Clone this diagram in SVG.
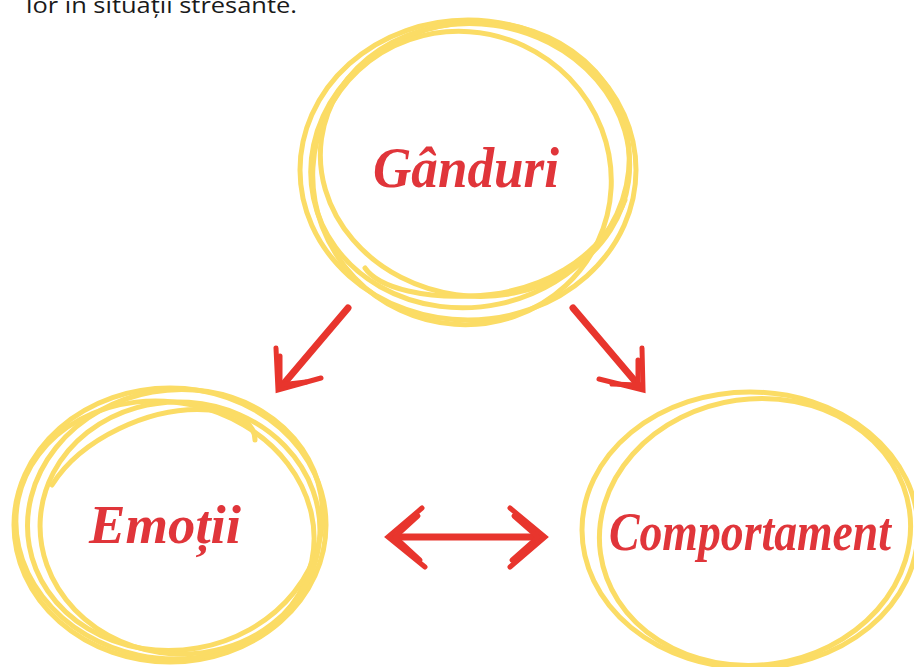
<svg xmlns="http://www.w3.org/2000/svg" width="914" height="667" viewBox="0 0 914 667">
<defs>
<style>
.ring{fill:none;stroke:#fbdc65;stroke-width:5;stroke-linecap:round}
.lbl{font-family:"Liberation Serif","DejaVu Serif",serif;font-style:italic;font-weight:bold;fill:#e0353a}
.arr{fill:none;stroke:#e8352d;stroke-width:7;stroke-linecap:round;stroke-linejoin:round}
.head{fill:none;stroke:#e8352d;stroke-width:5;stroke-linecap:round;stroke-linejoin:miter}
</style>
</defs>
<rect width="914" height="667" fill="#ffffff"/>
<text x="26" y="13" font-family="'Open Sans','Noto Sans',sans-serif" font-size="22" fill="#1a1a1a" textLength="271" lengthAdjust="spacingAndGlyphs">lor în situații stresante.</text>

<g id="node-ganduri">
<ellipse class="ring" cx="468" cy="170" rx="168" ry="150"/>
<ellipse class="ring" cx="470" cy="165" rx="160" ry="142" transform="rotate(-12 470 165)"/>
<ellipse class="ring" cx="462" cy="178" rx="150" ry="146" transform="rotate(25 462 178)"/>
<ellipse class="ring" cx="475" cy="160" rx="155" ry="136" transform="rotate(8 475 160)"/>
<path class="ring" d="M365 268 C 380 290, 430 298, 470 296 C 540 294, 600 260, 625 200"/>
<text class="lbl" x="466" y="187" font-size="56" text-anchor="middle" textLength="186" lengthAdjust="spacingAndGlyphs">Gânduri</text>
</g>

<g id="node-emotii">
<ellipse class="ring" cx="170" cy="525" rx="156" ry="137"/>
<ellipse class="ring" cx="175" cy="520" rx="148" ry="130" transform="rotate(-10 175 520)"/>
<ellipse class="ring" cx="165" cy="530" rx="150" ry="128" transform="rotate(12 165 530)"/>
<ellipse class="ring" cx="180" cy="528" rx="140" ry="126" transform="rotate(4 180 528)"/>
<path class="ring" d="M52 485 C 80 440, 150 405, 210 410 C 240 412, 255 425, 255 440"/>
<text class="lbl" x="165" y="543" font-size="54" text-anchor="middle" textLength="152" lengthAdjust="spacingAndGlyphs">Emoții</text>
</g>

<g id="node-comportament">
<ellipse class="ring" cx="750" cy="530" rx="168" ry="138"/>
<ellipse class="ring" cx="755" cy="532" rx="156" ry="133" transform="rotate(-8 755 532)"/>
<text class="lbl" x="750" y="550" font-size="54" text-anchor="middle" textLength="282" lengthAdjust="spacingAndGlyphs">Comportament</text>
</g>

<g id="connectors">
<path class="arr" d="M348 308 L281 387"/>
<path class="head" d="M276 348 L278 390 L321 378"/>
<path class="head" d="M280 356 L280 385 L306 382"/>
<path class="arr" d="M573 308 L640 387"/>
<path class="head" d="M642 348 L643 390 L599 379"/>
<path class="head" d="M638 360 L638 385 L612 384"/>
<path class="arr" d="M392 537 L541 537"/>
<path class="head" d="M422 508 L388 537 L425 567"/>
<path class="head" d="M418 516 L395 537 L420 560"/>
<path class="head" d="M510 508 L545 537 L510 567"/>
<path class="head" d="M514 516 L538 537 L512 560"/>
</g>
</svg>
